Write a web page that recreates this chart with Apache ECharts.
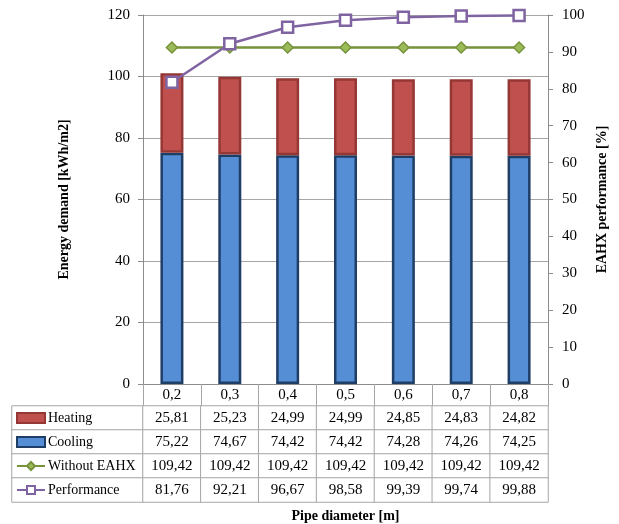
<!DOCTYPE html>
<html>
<head>
<meta charset="utf-8">
<script src="https://cdn.jsdelivr.net/npm/echarts@6/dist/echarts.min.js"></script>
<style>
  html, body { margin: 0; padding: 0; background: #fff; }
  #chart { width: 619px; height: 524px; }
</style>
</head>
<body>
<div id="chart"></div>
<script>
// Pipe diameters and simulated results
const categories = ['0,2', '0,3', '0,4', '0,5', '0,6', '0,7', '0,8'];
const heating = [25.81, 25.23, 24.99, 24.99, 24.85, 24.83, 24.82];
const cooling = [75.22, 74.67, 74.42, 74.42, 74.28, 74.26, 74.25];
const withoutEahx = [109.42, 109.42, 109.42, 109.42, 109.42, 109.42, 109.42];
const performance = [81.76, 92.21, 96.67, 98.58, 99.39, 99.74, 99.88];
const rowNames = ['Heating', 'Cooling', 'Without EAHX', 'Performance'];

const FONT = 'Liberation Serif';
const GRID_LINE = '#A6A6A6';
const AXIS_LINE = '#8C8C8C';
const NUM_SIZE = 15;

// Layout of the plot and the data table beneath it
const PLOT = { left: 143, top: 15, width: 405, height: 369 };
const CAT_ROW_H = 22;
const ROW_H = 24;
const TABLE_LEFT = 12;
const tableTop = PLOT.top + PLOT.height + CAT_ROW_H;

const fmt = v => v.toFixed(2).replace('.', ',');

const tableRows = [heating, cooling, withoutEahx, performance];
const tableCells = [];
tableRows.forEach((row, r) => row.forEach((v, c) => tableCells.push([c, r, v])));
const legendCells = rowNames.map((n, r) => [0, r, 0]);

const chart = echarts.init(document.getElementById('chart'));
chart.setOption({
  animation: false,
  textStyle: { fontFamily: FONT, color: '#000' },
  grid: [
    { left: PLOT.left, top: PLOT.top, width: PLOT.width, height: PLOT.height, outerBoundsMode: 'none' },
    { left: PLOT.left, top: tableTop, width: PLOT.width, height: ROW_H * 4, outerBoundsMode: 'none' },
    { left: TABLE_LEFT, top: tableTop, width: PLOT.left - TABLE_LEFT, height: ROW_H * 4, outerBoundsMode: 'none' }
  ],
  legend: {
    orient: 'vertical',
    left: TABLE_LEFT + 4,
    top: tableTop + 5,
    padding: 0,
    itemWidth: 28,
    itemHeight: 10,
    itemGap: 10,
    selectedMode: false,
    textStyle: { fontFamily: FONT, fontSize: 14, color: '#000', lineHeight: 14, padding: [0, 0, 0, -2] },
    data: [
      { name: 'Heating', icon: 'rect' },
      { name: 'Cooling', icon: 'rect' },
      { name: 'Without EAHX' },
      { name: 'Performance' }
    ]
  },
  xAxis: [
    {
      gridIndex: 0,
      type: 'category',
      data: categories,
      axisLine: { lineStyle: { color: AXIS_LINE, width: 1 } },
      axisTick: { show: true, length: CAT_ROW_H, lineStyle: { color: GRID_LINE } },
      axisLabel: { fontFamily: FONT, fontSize: NUM_SIZE, color: '#000', margin: 4 }
    },
    {
      gridIndex: 1,
      type: 'category',
      data: categories,
      axisLine: { show: false },
      axisTick: { show: false },
      axisLabel: { show: false },
      name: 'Pipe diameter [m]',
      nameLocation: 'middle',
      nameGap: 7,
      nameTextStyle: { fontFamily: FONT, fontSize: 14, fontWeight: 'bold', color: '#000' }
    },
    {
      gridIndex: 2,
      type: 'category',
      data: [''],
      show: false
    }
  ],
  yAxis: [
    {
      gridIndex: 0,
      type: 'value',
      min: 0, max: 120, interval: 20,
      name: 'Energy demand [kWh/m2]',
      nameLocation: 'middle',
      nameRotate: 90,
      nameGap: 72,
      nameTextStyle: { fontFamily: FONT, fontSize: 14, fontWeight: 'bold', color: '#000' },
      axisLine: { show: true, lineStyle: { color: AXIS_LINE } },
      axisTick: { show: true, length: 5, lineStyle: { color: AXIS_LINE } },
      axisLabel: { fontFamily: FONT, fontSize: NUM_SIZE, color: '#000', margin: 13 },
      splitLine: { lineStyle: { color: GRID_LINE } }
    },
    {
      gridIndex: 0,
      type: 'value',
      position: 'right',
      min: 0, max: 100, interval: 10,
      name: 'EAHX performance [%]',
      nameLocation: 'middle',
      nameRotate: 90,
      nameGap: 46,
      nameTextStyle: { fontFamily: FONT, fontSize: 14, fontWeight: 'bold', color: '#000' },
      axisLine: { show: true, lineStyle: { color: AXIS_LINE } },
      axisTick: { show: true, length: 5, lineStyle: { color: AXIS_LINE } },
      axisLabel: { fontFamily: FONT, fontSize: NUM_SIZE, color: '#000', margin: 14 },
      splitLine: { show: false }
    },
    {
      gridIndex: 1,
      type: 'category',
      data: rowNames,
      inverse: true,
      show: false
    },
    {
      gridIndex: 2,
      type: 'category',
      data: rowNames,
      inverse: true,
      show: false
    }
  ],
  series: [
    {
      name: 'Cooling',
      type: 'bar',
      stack: 'demand',
      barWidth: 23,
      data: cooling,
      itemStyle: { color: '#558ED5', borderColor: '#1F3E66', borderWidth: 2.5 }
    },
    {
      name: 'Heating',
      type: 'bar',
      stack: 'demand',
      barWidth: 23,
      data: heating,
      itemStyle: { color: '#C0504D', borderColor: '#953735', borderWidth: 2.5 }
    },
    {
      name: 'Without EAHX',
      type: 'line',
      data: withoutEahx,
      symbol: 'diamond',
      symbolSize: 11,
      lineStyle: { color: '#77933C', width: 2.5 },
      itemStyle: { color: '#9BBB59', borderColor: '#77933C', borderWidth: 1.5 }
    },
    {
      name: 'Performance',
      type: 'line',
      yAxisIndex: 1,
      data: performance,
      symbol: 'rect',
      symbolSize: 11,
      z: 3,
      lineStyle: { color: '#8064A2', width: 2.5 },
      itemStyle: { color: '#FFFFFF', borderColor: '#8064A2', borderWidth: 2.5 }
    },
    {
      name: 'table',
      type: 'heatmap',
      xAxisIndex: 1,
      yAxisIndex: 2,
      data: tableCells,
      itemStyle: { color: '#FFFFFF', borderColor: GRID_LINE, borderWidth: 1 },
      emphasis: { disabled: true },
      label: {
        show: true,
        fontFamily: FONT,
        fontSize: NUM_SIZE,
        color: '#000',
        formatter: p => fmt(p.value[2])
      }
    },
    {
      name: 'legendColumn',
      type: 'heatmap',
      xAxisIndex: 2,
      yAxisIndex: 3,
      data: legendCells,
      itemStyle: { color: '#FFFFFF', borderColor: GRID_LINE, borderWidth: 1 },
      emphasis: { disabled: true },
      label: { show: false },
      z: 1
    }
  ]
});
</script>
</body>
</html>
